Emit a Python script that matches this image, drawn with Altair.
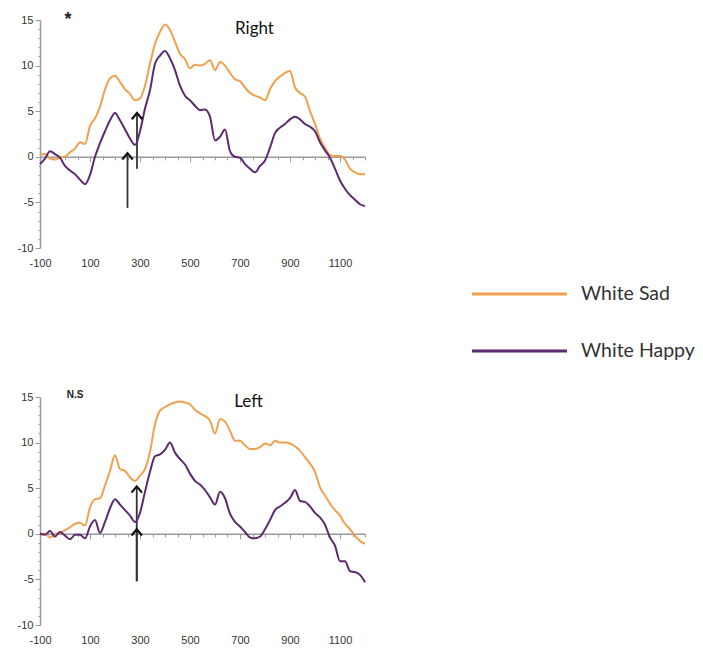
import altair as alt
import pandas as pd

# ---------------- data ----------------
times = list(range(-100, 1201, 20))

right_sad = [0.2, 0.3, -0.2, -0.3, -0.1, 0.0, 0.5, 0.9, 1.6, 1.4,
             3.4, 4.2, 5.5, 7.4, 8.6, 8.9, 8.2, 7.4, 6.9, 6.2,
             6.4, 7.8, 10.2, 12.4, 13.7, 14.5, 13.9, 12.6, 11.3, 10.7,
             9.7, 10.1, 10.0, 10.2, 10.6, 9.5, 10.4, 10.0, 9.2, 8.5,
             8.3, 7.6, 7.0, 6.7, 6.5, 6.2, 7.4, 8.3, 8.8, 9.2,
             9.4, 7.6, 7.0, 6.6, 5.0, 3.6, 2.0, 1.0, 0.2, 0.1,
             0.1, -0.3, -1.3, -1.7, -1.9, -1.9]
right_happy = [-0.8, -0.2, 0.6, 0.3, -0.1, -1.0, -1.5, -1.9, -2.5, -3.0,
               -2.0, 0.0, 1.5, 2.8, 4.0, 4.8, 4.0, 3.0, 2.0, 1.3,
               2.8, 5.3, 7.3, 10.2, 11.1, 11.6, 10.8, 9.5, 7.8, 6.7,
               6.2, 5.6, 5.1, 5.2, 4.4, 1.8, 2.2, 3.0, 0.6, 0.0,
               -0.1, -0.8, -1.3, -1.7, -1.0, -0.4, 1.0, 2.6, 3.2, 3.6,
               4.1, 4.4, 4.1, 3.6, 3.3, 2.8, 1.6, 0.7, -0.1, -1.3,
               -2.6, -3.5, -4.2, -4.7, -5.2, -5.4]
left_sad = [0.0, 0.0, -0.4, 0.0, 0.1, 0.4, 0.7, 1.1, 1.2, 0.9,
            2.9, 3.8, 3.9, 5.3, 6.9, 8.6, 7.1, 6.9, 6.2, 5.8,
            6.4, 7.1, 9.0, 12.0, 13.5, 13.9, 14.2, 14.4, 14.5, 14.4,
            14.2, 13.6, 13.2, 12.9, 12.4, 11.0, 12.6, 12.3, 11.3, 10.2,
            10.2, 9.7, 9.3, 9.3, 9.5, 9.9, 9.7, 10.2, 10.0, 10.0,
            9.9, 9.6, 9.1, 8.4, 7.7, 6.8, 5.1, 4.2, 3.3, 2.6,
            2.0, 1.1, 0.5, -0.2, -0.8, -1.1]
left_happy = [0.0, -0.1, 0.3, -0.3, 0.2, -0.2, -0.6, -0.1, -0.1, -0.5,
              0.8, 1.5, 0.1, 1.3, 2.8, 3.8, 3.2, 2.6, 2.0, 1.3,
              2.3, 4.6, 6.8, 8.5, 8.7, 9.2, 10.0, 8.9, 8.2, 7.6,
              6.6, 5.8, 5.4, 4.8, 4.0, 3.2, 4.6, 3.9, 2.2, 1.3,
              0.8, 0.2, -0.4, -0.5, -0.3, 0.5, 1.5, 2.6, 3.0, 3.4,
              3.9, 4.8, 3.6, 3.5, 3.0, 2.3, 1.8, 1.0, -0.4, -1.3,
              -3.0, -3.0, -4.1, -4.2, -4.5, -5.3]

series_names = ["White Sad", "White Happy"]
series_colors = ["#F0A04E", "#5C2A6E"]

y_ticks = list(range(-10, 16))
x_label_values = list(range(-100, 1101, 200))
zero_tick_values = list(range(-100, 1201, 50))

# arrows: x, start, tip
right_arrow_x = [250, 288]
right_arrow_start = [-5.6, -1.3]
right_arrow_tip = [0.4, 4.8]
left_arrow_x = [287, 287]
left_arrow_start = [-5.2, -5.2]
left_arrow_tip = [0.5, 5.2]

# annotations
right_mark = ["*"]
right_mark_x = [12]
right_mark_y = [15.0]
right_title = ["Right"]
right_title_x = [758]
right_title_y = [14.0]
left_mark = ["N.S"]
left_mark_x = [40]
left_mark_y = [15.2]
left_title = ["Left"]
left_title_x = [734]
left_title_y = [14.4]

# ---------------- layout / style ----------------
PLOT_W = 325
PLOT_H = 228
AXIS_GRAY = "#9a9a9a"
LABEL_COLOR = "#333333"
AXIS_FONT = "Liberation Sans"
TEXT_FONT = "Lato"

x_scale = alt.Scale(domain=[-100, 1200], nice=False, zero=False)
y_scale = alt.Scale(domain=[-10, 15], nice=False, zero=False)
color_scale = alt.Scale(domain=series_names, range=series_colors)

y_axis = alt.Axis(values=y_ticks, grid=False,
                  labelExpr="datum.value % 5 == 0 ? '' + datum.value : ''",
                  tickSize={"condition": {"test": "datum.value % 5 == 0", "value": 5}, "value": 2},
                  domainColor=AXIS_GRAY, domainWidth=1.5,
                  tickColor=AXIS_GRAY, tickWidth=1,
                  labelFontSize=11, labelColor=LABEL_COLOR,
                  labelFont=AXIS_FONT, labelPadding=2)


def panel(sad, happy, ax, astart, atip, mark, mx, my, mark_size, mark_weight,
          title, tx, ty):
    n = len(times)
    df = pd.DataFrame({
        "time": times * 2,
        "amp": sad + happy,
        "series": [series_names[0]] * n + [series_names[1]] * n,
        "order": [0] * n + [1] * n,
    })
    lines = alt.Chart(df).mark_line(strokeWidth=2, interpolate="monotone").encode(
        x=alt.X("time:Q", scale=x_scale, title=None,
                axis=alt.Axis(orient="bottom", values=x_label_values, domain=False,
                              ticks=False, grid=False, labelPadding=9,
                              labelExpr="'' + datum.value",
                              labelFontSize=11, labelColor=LABEL_COLOR,
                              labelFont=AXIS_FONT, labelFlush=False)),
        y=alt.Y("amp:Q", scale=y_scale, title=None, axis=y_axis),
        color=alt.Color("series:N", scale=color_scale, legend=None),
        detail="order:N",
    )
    adf = pd.DataFrame({"x": ax, "y0": astart, "tip": atip})
    zero_axis = alt.Axis(orient="bottom", offset=-PLOT_H * 10 / 25, values=zero_tick_values,
                         labels=False, grid=False, domain=True, domainColor=AXIS_GRAY,
                         domainWidth=1.5, tickColor=AXIS_GRAY, tickWidth=1,
                         tickSize={"condition": {"test": "(datum.value + 100) % 200 == 0", "value": 5}, "value": 3})
    shafts = alt.Chart(adf).mark_rule(color="#333333", strokeWidth=1.8).encode(
        x=alt.X("x:Q", scale=x_scale, title=None, axis=zero_axis),
        y=alt.Y("y0:Q", scale=y_scale, title=None, axis=y_axis),
        y2="tip:Q",
    )
    heads = alt.Chart(adf).mark_point(
        shape="M-1,1.2L0,0L1,1.2", size=110, filled=False, stroke="#111111",
        strokeWidth=2.2, opacity=1,
    ).encode(
        x=alt.X("x:Q", scale=x_scale, axis=None),
        y=alt.Y("tip:Q", scale=y_scale, title=None, axis=y_axis),
    )
    mdf = pd.DataFrame({"label": mark, "x": mx, "y": my})
    marktext = alt.Chart(mdf).mark_text(
        fontSize=mark_size, fontWeight=mark_weight, font=AXIS_FONT, color="#222222",
        baseline="middle", align="center",
    ).encode(
        x=alt.X("x:Q", scale=x_scale, axis=None),
        y=alt.Y("y:Q", scale=y_scale, title=None, axis=y_axis),
        text="label:N",
    )
    tdf = pd.DataFrame({"label": title, "x": tx, "y": ty})
    titletext = alt.Chart(tdf).mark_text(
        fontSize=17, font=TEXT_FONT, color="#111111", baseline="middle", align="center",
    ).encode(
        x=alt.X("x:Q", scale=x_scale, axis=None),
        y=alt.Y("y:Q", scale=y_scale, title=None, axis=y_axis),
        text="label:N",
    )
    return alt.layer(shafts, lines, heads, marktext, titletext).resolve_axis(
        x="independent").properties(width=PLOT_W, height=PLOT_H)


top = panel(right_sad, right_happy, right_arrow_x, right_arrow_start, right_arrow_tip,
            right_mark, right_mark_x, right_mark_y, 18, "bold",
            right_title, right_title_x, right_title_y)
bottom = panel(left_sad, left_happy, left_arrow_x, left_arrow_start, left_arrow_tip,
               left_mark, left_mark_x, left_mark_y, 10, "bold",
               left_title, left_title_x, left_title_y)

legend_df = pd.DataFrame({"series": series_names})
legend_y = alt.Y("series:N", axis=None,
                 scale=alt.Scale(type="point", domain=series_names, range=[274, 331], padding=0))
legend_lines = alt.Chart(legend_df).mark_rule(strokeWidth=3).encode(
    x=alt.value(0), x2=alt.value(95), y=legend_y,
    color=alt.Color("series:N", scale=color_scale, legend=None),
)
legend_text = alt.Chart(legend_df).mark_text(
    align="left", baseline="middle", fontSize=19.5, font=TEXT_FONT, color="#333333",
).encode(x=alt.value(109), y=legend_y, text="series:N")
legend = alt.layer(legend_lines, legend_text).properties(width=200, height=400)

left_col = alt.vconcat(top, bottom, spacing=122)
chart = alt.hconcat(left_col, legend, spacing=101).properties(
    padding={"left": 9, "top": 3, "right": 0, "bottom": 0}
).configure_view(stroke=None)

chart.save("out.html", embed_options={"renderer": "svg", "actions": False})
